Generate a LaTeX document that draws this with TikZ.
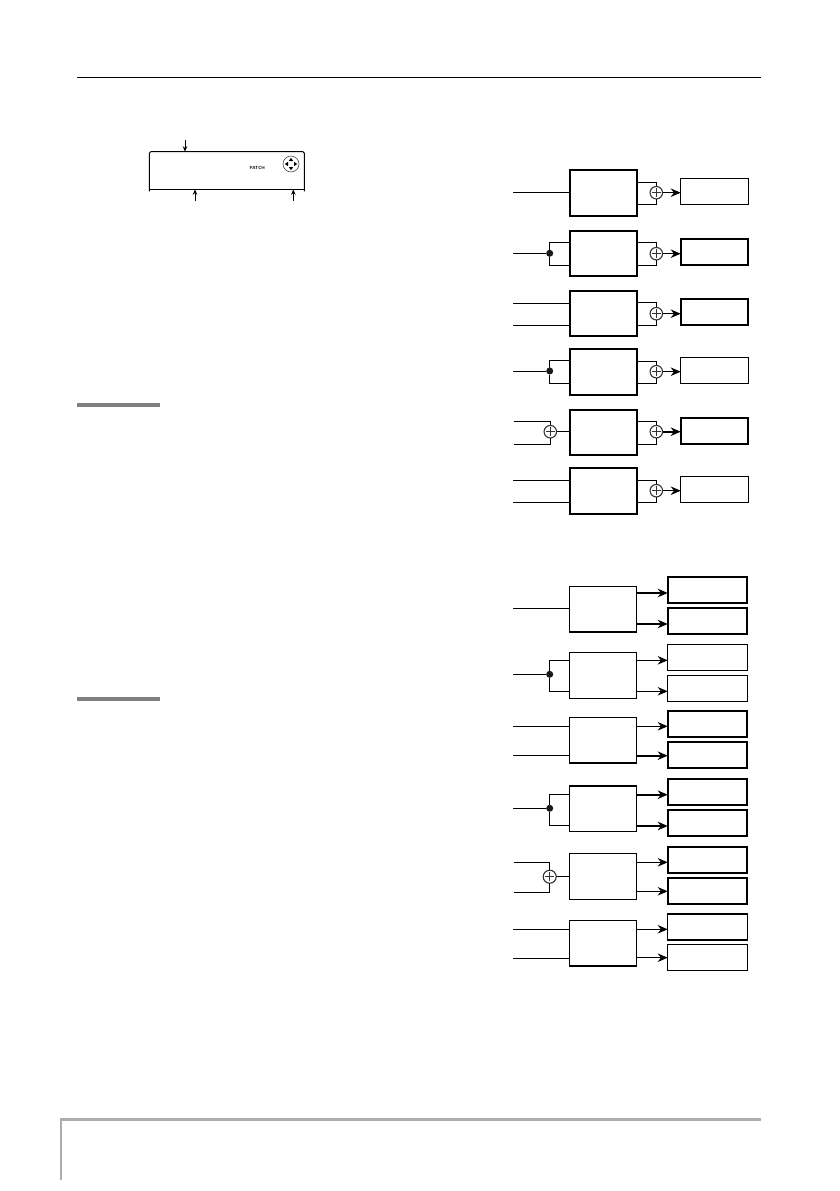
\documentclass[tikz,border=0pt]{standalone}
\usepackage{tikz}
\usetikzlibrary{positioning,arrows.meta}

\begin{document}
\begin{tikzpicture}[
  x=1pt, y=-1pt,
  fxbox/.style={draw, inner sep=0, outer sep=0, line width=1.8, minimum width=67.6, minimum height=45.7},
  fxboxlow/.style={fxbox, line width=1.3},
  outbox/.style={draw, inner sep=0, outer sep=0, line width=1.4, minimum width=67.6, minimum height=26},
  outboxheavy/.style={outbox, line width=2},
  sendbox/.style={outbox, minimum width=79.6},
  sendboxheavy/.style={sendbox, line width=2},
  sum/.style={circle, draw=black!80, fill=white, line width=1.1, inner sep=0, outer sep=0, minimum size=12.5,
    path picture={\draw[line width=1]
      ([yshift=-2]path picture bounding box.north) -- ([yshift=2]path picture bounding box.south)
      ([xshift=2]path picture bounding box.west) -- ([xshift=-2]path picture bounding box.east);}},
  dot/.style={circle, fill=black!90, inner sep=0, outer sep=0, minimum size=7},
  line/.style={line width=0.95},
  arrow/.style={-{Stealth[length=10, width=8.5]}, line width=0.95},
  thickarrow/.style={arrow, line width=1.8},
  tagarrow/.style={-{Stealth[length=5.5, width=4.5]}, line width=0.8},
  rulebar/.style={fill=black!50, draw=none}
]
\useasboundingbox (0,0) rectangle (839,1191);

% page furniture
\draw[line width=1.1] (77,77.3) -- (761,77.3);
\fill[rulebar] (77,403) rectangle (160,407);
\fill[rulebar] (77,697) rectangle (160,701);
\fill[black!32] (60,1118) rectangle (761,1121);
\fill[black!32] (60,1118) rectangle (62,1180);

% display
\node[inner sep=0, outer sep=0, minimum width=155, minimum height=37.6] (display) at (226.8,170.5) {};
\draw[line width=1, rounded corners=1.5] ([yshift=-2]display.south west) -- (display.north west)
  -- (display.north east) -- ([yshift=-2]display.south east);
\draw[line width=1] (display.south west) -- (display.south east);
\node[font=\sffamily\bfseries\fontsize{4.4}{4.4}\selectfont, inner sep=0] (patch) at (257.3,168.3) {PATCH};
\node[circle, draw=black!70, line width=0.6, inner sep=0, minimum size=16] (cursor) at (291,164) {};
\fill (291,157.8) -- (288.8,161) -- (293.2,161) -- cycle;
\fill (291,170.2) -- (288.8,167) -- (293.2,167) -- cycle;
\fill (284.8,164) -- (288,161.8) -- (288,166.2) -- cycle;
\fill (297.2,164) -- (294,161.8) -- (294,166.2) -- cycle;

\coordinate (tagtop) at (185,140);
\coordinate (tagleft) at (195,201);
\coordinate (tagright) at (293.3,201);
\draw[tagarrow] (tagtop) -- (tagtop |- display.north);
\draw[tagarrow] (tagleft) -- (tagleft |- display.south);
\draw[tagarrow] (tagright) -- (tagright |- display.south);

% upper column
\node[fxbox] (fx1) at (603.5,193.2) {};
\node[fxbox] (fx2) at (603.5,253.5) {};
\node[fxbox] (fx3) at (603.5,313.5) {};
\node[fxbox] (fx4) at (603.5,372.2) {};
\node[fxbox] (fx5) at (603.5,432.5) {};
\node[fxbox] (fx6) at (603.5,491.2) {};

\node[outbox] (out1) at (714.5,191.3) {};
\node[outboxheavy] (out2) at (714.5,252) {};
\node[outboxheavy] (out3) at (714.5,311.8) {};
\node[outbox] (out4) at (714.5,370.3) {};
\node[outboxheavy] (out5) at (714.5,430.7) {};
\node[outbox] (out6) at (714.5,489.3) {};

\node[sum] (sum1) at (656.3,192.7) {};
\node[sum] (sum2) at (656.3,253.7) {};
\node[sum] (sum3) at (656.3,313.7) {};
\node[sum] (sum4) at (656.3,371.7) {};
\node[sum] (sum5) at (656.3,431.7) {};
\node[sum] (sum6) at (656.3,490.7) {};

\node[dot] (dot2) at (549.7,253.3) {};
\node[dot] (dot4) at (549.7,371) {};
\node[sum] (mix5) at (550.3,431.7) {};

\coordinate (in1) at (513,192.5);
\coordinate (in2) at (513,253.3);
\coordinate (in3a) at (513,303.3);
\coordinate (in3b) at (513,325.3);
\coordinate (in4) at (513,371);
\coordinate (in5a) at (514.3,421);
\coordinate (in5b) at (514.3,444.3);
\coordinate (in6a) at (513,480.3);
\coordinate (in6b) at (513,502.3);

\draw[line] (in1) -- (in1 -| fx1.west);
\draw[line] (in2) -- (dot2);
\draw[line] (dot2.north) |- (fx2.west |- 0,242.3);
\draw[line] (dot2.south) |- (fx2.west |- 0,265.3);
\draw[line] (in3a) -- (in3a -| fx3.west);
\draw[line] (in3b) -- (in3b -| fx3.west);
\draw[line] (in4) -- (dot4);
\draw[line] (dot4.north) |- (fx4.west |- 0,360.3);
\draw[line] (dot4.south) |- (fx4.west |- 0,383.3);
\draw[line] (in5a) -| (mix5.north);
\draw[line] (in5b) -| (mix5.south);
\draw[line] (mix5) -- (mix5 -| fx5.west);
\draw[line] (in6a) -- (in6a -| fx6.west);
\draw[line] (in6b) -- (in6b -| fx6.west);

\draw[line] (fx1.east |- 0,182.3) -| (sum1.north);
\draw[line] (fx1.east |- 0,204.3) -| (sum1.south);
\draw[line] (fx2.east |- 0,242.3) -| (sum2.north);
\draw[line] (fx2.east |- 0,265.3) -| (sum2.south);
\draw[line] (fx3.east |- 0,302.3) -| (sum3.north);
\draw[line] (fx3.east |- 0,325) -| (sum3.south);
\draw[line] (fx4.east |- 0,361.3) -| (sum4.north);
\draw[line] (fx4.east |- 0,383.3) -| (sum4.south);
\draw[line] (fx5.east |- 0,421.3) -| (sum5.north);
\draw[line] (fx5.east |- 0,444.3) -| (sum5.south);
\draw[line] (fx6.east |- 0,480.3) -| (sum6.north);
\draw[line] (fx6.east |- 0,502.3) -| (sum6.south);

\draw[arrow] (sum1.east) -- (sum1.east -| out1.west);
\draw[arrow] (sum2.east) -- (sum2.east -| out2.west);
\draw[arrow] (sum3.east) -- (sum3.east -| out3.west);
\draw[arrow] (sum4.east) -- (sum4.east -| out4.west);
\draw[thickarrow] (sum5.east) -- (sum5.east -| out5.west);
\draw[arrow] (sum6.east) -- (sum6.east -| out6.west);

% lower column
\node[fxboxlow] (fx7) at (603,609.2) {};
\node[fxboxlow] (fx8) at (603,675.5) {};
\node[fxboxlow] (fx9) at (603,740.2) {};
\node[fxboxlow] (fx10) at (603,808.8) {};
\node[fxboxlow] (fx11) at (603,876.5) {};
\node[fxboxlow] (fx12) at (603,943.2) {};

\node[sendboxheavy] (send7a) at (707.5,590.3) {};
\node[sendboxheavy] (send7b) at (707.5,621.3) {};
\node[sendbox] (send8a) at (707.5,657.5) {};
\node[sendbox] (send8b) at (707.5,688.5) {};
\node[sendboxheavy] (send9a) at (707.5,723.8) {};
\node[sendboxheavy] (send9b) at (707.5,754.8) {};
\node[sendboxheavy] (send10a) at (707.5,792.2) {};
\node[sendboxheavy] (send10b) at (707.5,823) {};
\node[sendboxheavy] (send11a) at (707.5,860) {};
\node[sendboxheavy] (send11b) at (707.5,891) {};
\node[sendbox] (send12a) at (707.5,926.8) {};
\node[sendbox] (send12b) at (707.5,957.7) {};

\node[dot] (dot8) at (549.7,674.3) {};
\node[dot] (dot10) at (549.7,808.3) {};
\node[sum, minimum size=13] (mix11) at (549.7,876.7) {};

\coordinate (in7) at (513,608.3);
\coordinate (in8) at (513,674.3);
\coordinate (in9a) at (513,726.3);
\coordinate (in9b) at (513,755.3);
\coordinate (in10) at (513,808.3);
\coordinate (in11a) at (514,862.3);
\coordinate (in11b) at (514,892.3);
\coordinate (in12a) at (513,929.3);
\coordinate (in12b) at (513,958.3);

\draw[line] (in7) -- (in7 -| fx7.west);
\draw[line] (in8) -- (dot8);
\draw[line] (dot8.north) |- (fx8.west |- 0,660.3);
\draw[line] (dot8.south) |- (fx8.west |- 0,691.3);
\draw[line] (in9a) -- (in9a -| fx9.west);
\draw[line] (in9b) -- (in9b -| fx9.west);
\draw[line] (in10) -- (dot10);
\draw[line] (dot10.north) |- (fx10.west |- 0,794.3);
\draw[line] (dot10.south) |- (fx10.west |- 0,825.3);
\draw[line] (in11a) -| (mix11.north);
\draw[line] (in11b) -| (mix11.south);
\draw[line] (mix11) -- (mix11 -| fx11.west);
\draw[line] (in12a) -- (in12a -| fx12.west);
\draw[line] (in12b) -- (in12b -| fx12.west);

\draw[thickarrow] (fx7.east |- 0,593) -- (send7a.west |- 0,593);
\draw[thickarrow] (fx7.east |- 0,624) -- (send7b.west |- 0,624);
\draw[arrow] (fx8.east |- 0,660.3) -- (send8a.west |- 0,660.3);
\draw[arrow] (fx8.east |- 0,691.3) -- (send8b.west |- 0,691.3);
\draw[arrow] (fx9.east |- 0,726.3) -- (send9a.west |- 0,726.3);
\draw[thickarrow] (fx9.east |- 0,755.7) -- (send9b.west |- 0,755.7);
\draw[thickarrow] (fx10.east |- 0,794.7) -- (send10a.west |- 0,794.7);
\draw[thickarrow] (fx10.east |- 0,826) -- (send10b.west |- 0,826);
\draw[arrow] (fx11.east |- 0,862.3) -- (send11a.west |- 0,862.3);
\draw[arrow] (fx11.east |- 0,891.3) -- (send11b.west |- 0,891.3);
\draw[arrow] (fx12.east |- 0,929.3) -- (send12a.west |- 0,929.3);
\draw[arrow] (fx12.east |- 0,957.7) -- (send12b.west |- 0,957.7);

\end{tikzpicture}
\end{document}
